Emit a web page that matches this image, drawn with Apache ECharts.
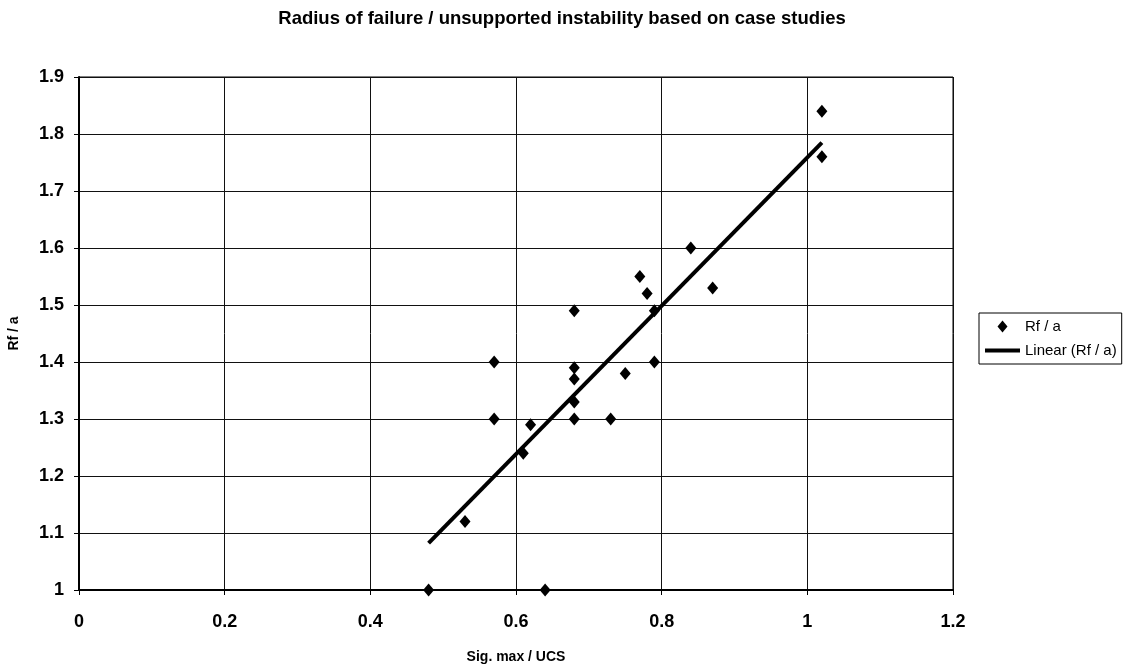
<!DOCTYPE html>
<html>
<head>
<meta charset="utf-8">
<script src="https://cdn.jsdelivr.net/npm/echarts@6/dist/echarts.min.js"></script>
<style>
html,body{margin:0;padding:0;background:#fff;}
#c{width:1124px;height:666px;}
</style>
</head>
<body>
<div id="c"></div>
<script>
const chartTitle = 'Radius of failure / unsupported instability based on case studies';
const xName = 'Sig. max / UCS';
const yName = 'Rf / a';
const seriesName = 'Rf / a';
const trendName = 'Linear (Rf / a)';

const sigMaxUcs = [0.48, 0.64, 0.53, 0.57, 0.57, 0.61, 0.62, 0.68, 0.68, 0.68, 0.68, 0.68, 0.73, 0.75, 0.77, 0.78, 0.79, 0.79, 0.84, 0.87, 1.02, 1.02];
const rfOverA   = [1.00, 1.00, 1.12, 1.40, 1.30, 1.24, 1.29, 1.49, 1.39, 1.37, 1.33, 1.30, 1.30, 1.38, 1.55, 1.52, 1.49, 1.40, 1.60, 1.53, 1.84, 1.76];

// least-squares linear trendline (the spreadsheet's "Linear" trendline)
const n = sigMaxUcs.length;
const mx = sigMaxUcs.reduce((a, b) => a + b, 0) / n;
const my = rfOverA.reduce((a, b) => a + b, 0) / n;
let sxy = 0, sxx = 0;
for (let i = 0; i < n; i++) { sxy += (sigMaxUcs[i] - mx) * (rfOverA[i] - my); sxx += (sigMaxUcs[i] - mx) ** 2; }
const slope = sxy / sxx, intercept = my - slope * mx;
const xMin = Math.min(...sigMaxUcs), xMax = Math.max(...sigMaxUcs);
const trend = [[xMin, intercept + slope * xMin], [xMax, intercept + slope * xMax]];

const pts = sigMaxUcs.map((x, i) => [x, rfOverA[i]]);
const FONT = '"Liberation Sans", Arial, sans-serif';

const chart = echarts.init(document.getElementById('c'), null, {renderer: 'canvas'});
chart.setOption({
  animation: false,
  backgroundColor: '#fff',
  title: {
    text: chartTitle, left: 'center', top: 4,
    textStyle: {fontFamily: FONT, fontWeight: 'bold', fontSize: 18.5, color: '#000'}
  },
  grid: {left: 79, right: 171, top: 77, bottom: 76, show: true, borderColor: '#000', borderWidth: 1,
    containLabel: false, outerBoundsMode: 'none'},
  legend: {
    orient: 'vertical', left: 979, top: 313,
    borderColor: '#000', borderWidth: 1, padding: [6, 5, 6, 4],
    itemWidth: 35, itemHeight: 12, itemGap: 9,
    textStyle: {fontFamily: FONT, fontSize: 15, color: '#000'},
    data: [
      {name: seriesName, icon: 'path://M5,0L10,6L5,12L0,6Z'},
      {name: trendName, itemStyle: {opacity: 0}, lineStyle: {width: 4, color: '#000'}}
    ]
  },
  xAxis: {
    type: 'value', min: 0, max: 1.2, interval: 0.2,
    name: xName, nameLocation: 'middle', nameGap: 60,
    nameTextStyle: {fontFamily: FONT, fontWeight: 'bold', fontSize: 14, color: '#000'},
    axisLine: {show: true, onZero: false, lineStyle: {color: '#000', width: 2}},
    axisTick: {show: true, length: 5, lineStyle: {color: '#000'}},
    axisLabel: {fontFamily: FONT, fontWeight: 'bold', fontSize: 18, color: '#000', margin: 23},
    splitLine: {show: true, lineStyle: {color: '#111', width: 1}}
  },
  yAxis: {
    type: 'value', min: 1, max: 1.9, interval: 0.1,
    name: yName, nameLocation: 'middle', nameGap: 58, nameRotate: 90,
    nameTextStyle: {fontFamily: FONT, fontWeight: 'bold', fontSize: 14, color: '#000'},
    axisLine: {show: true, onZero: false, lineStyle: {color: '#000', width: 2}},
    axisTick: {show: true, length: 5, lineStyle: {color: '#000'}},
    axisLabel: {fontFamily: FONT, fontWeight: 'bold', fontSize: 18, color: '#000', margin: 15,
      formatter: v => String(Math.round(v * 10) / 10)},
    splitLine: {show: true, lineStyle: {color: '#111', width: 1}}
  },
  series: [
    {
      name: seriesName, type: 'scatter', data: pts,
      symbol: 'diamond', symbolSize: [11, 13],
      itemStyle: {color: '#000', opacity: 1}, z: 3
    },
    {
      name: trendName, type: 'line', data: trend,
      symbol: 'none', lineStyle: {color: '#000', width: 4},
      itemStyle: {color: '#000'}, z: 2
    }
  ]
});
</script>
</body>
</html>
